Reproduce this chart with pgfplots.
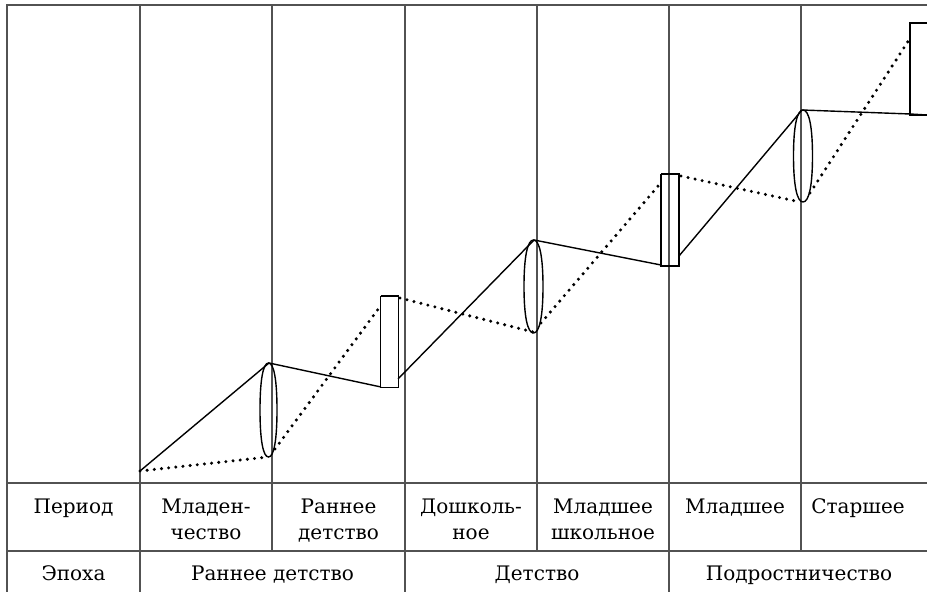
\documentclass[border=0pt]{standalone}
\usepackage{fontspec}
\setmainfont{DejaVu Serif}
\usepackage{pgfplots}
\pgfplotsset{compat=1.18}
\begin{document}
\begin{tikzpicture}
\begin{axis}[
  width=463.5pt, height=296pt, scale only axis,
  xmin=0, xmax=927, ymin=0, ymax=592, y dir=reverse,
  axis line style={draw=none}, xtick=\empty, ytick=\empty, clip=true,
  grid/.style={color=black!68, line width=0.75pt, line cap=rect},
  solidl/.style={black, line width=0.7pt},
  dotl/.style={black, line width=1.7pt, line cap=round, dash pattern=on 0pt off 3.6pt},
  every node/.style={font=\fontsize{10}{12}\selectfont, text=black!85},
]
% table grid
\addplot[grid] coordinates {(7,5)(927,5)};
\addplot[grid] coordinates {(7,483)(927,483)};
\addplot[grid] coordinates {(7,551)(927,551)};
\addplot[grid] coordinates {(7,5)(7,592)};
\addplot[grid] coordinates {(140,5)(140,592)};
\addplot[grid] coordinates {(272,5)(272,551)};
\addplot[grid] coordinates {(405,5)(405,592)};
\addplot[grid] coordinates {(537,5)(537,551)};
\addplot[grid] coordinates {(669,5)(669,592)};
\addplot[grid] coordinates {(801,5)(801,551)};
% solid lines
\addplot[solidl] coordinates {(140,471)(269,363)(381,387)};
\addplot[solidl] coordinates {(398,379)(534,240)(661,265)};
\addplot[solidl] coordinates {(679,256)(802,110)(910,114)(927,115)};
% dotted lines
\addplot[dotl] coordinates {(140,471)(268,457)};
\addplot[dotl] coordinates {(275,449)(379,308)};
\addplot[dotl] coordinates {(400,298)(533,332)};
\addplot[dotl] coordinates {(541,323)(659,185)};
\addplot[dotl] coordinates {(681,176)(800,202)};
\addplot[dotl] coordinates {(810,193)(909,40)};
% ellipses
\addplot[solidl, smooth cycle, tension=1.15] coordinates {(268.5,363)(277,410)(268.5,457)(260,410)};
\addplot[solidl, smooth cycle, tension=1.15] coordinates {(533.5,240)(543,286.5)(533.5,333)(524,286.5)};
\addplot[solidl, smooth cycle, tension=1.15] coordinates {(803,110)(812.5,156)(803,202)(793.5,156)};
% rectangles
\addplot[solidl] coordinates {(380.7,296)(398.3,296)(398.3,387.7)(380.7,387.7)(380.7,296)};
\addplot[solidl] coordinates {(661,174)(679,174)(679,266)(661,266)(661,174)};
\addplot[solidl] coordinates {(945,23)(910,23)(910,115)(945,115)};
% labels row 1
\node[anchor=base] at (axis cs:73.5,514) {Период};
\node[anchor=base] at (axis cs:206,514) {Младен-};
\node[anchor=base] at (axis cs:206,540) {чество};
\node[anchor=base] at (axis cs:338.5,514) {Раннее};
\node[anchor=base] at (axis cs:338.5,540) {детство};
\node[anchor=base] at (axis cs:471,514) {Дошколь-};
\node[anchor=base] at (axis cs:471,540) {ное};
\node[anchor=base] at (axis cs:603,514) {Младшее};
\node[anchor=base] at (axis cs:603,540) {школьное};
\node[anchor=base] at (axis cs:735,514) {Младшее};
\node[anchor=base] at (axis cs:858,514) {Старшее};
% labels row 2
\node[anchor=base] at (axis cs:73.5,581) {Эпоха};
\node[anchor=base] at (axis cs:272.5,581) {Раннее детство};
\node[anchor=base] at (axis cs:537,581) {Детство};
\node[anchor=base] at (axis cs:799,581) {Подростничество};
\end{axis}
\end{tikzpicture}
\end{document}
